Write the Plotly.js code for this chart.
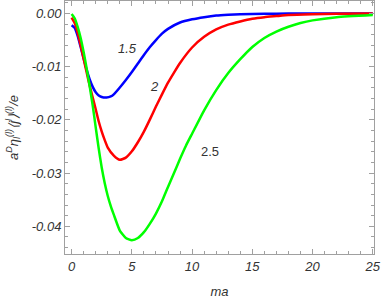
<!DOCTYPE html>
<html>
<head>
<meta charset="utf-8">
<script src="https://cdn.plot.ly/plotly-3.0.1.min.js"></script>
<style>html,body{margin:0;padding:0;background:#fff;}#chart{width:382px;height:300px;}</style>
</head>
<body>
<div id="chart"></div>
<script>
// m a values and curves for the three parameter values
const x15 = [0, 0.25, 0.5, 0.75, 1.0, 1.25, 1.5, 1.75, 2.0, 2.25, 2.5, 2.9, 3.25, 3.5, 4.0, 4.5, 5.0, 5.5, 6.0, 6.5, 7.0, 7.5, 8.0, 9.0, 10.0, 11.0, 12.0, 13.0, 14.0, 16.0, 18.0, 20.0, 25.0];
const y15 = [-0.0022, -0.0027, -0.0042, -0.0063, -0.0085, -0.0106, -0.0124, -0.0138, -0.0148, -0.0154, -0.0157, -0.0158, -0.0156, -0.0152, -0.0139, -0.0125, -0.0110, -0.0094, -0.0078, -0.0063, -0.0050, -0.0038, -0.0029, -0.0017, -0.0011, -0.0007, -0.0004, -0.00025, -0.00015, -0.00006, -0.00002, -0.00001, 0];

const x20 = [0, 0.25, 0.5, 0.75, 1.0, 1.25, 1.5, 1.75, 2.0, 2.25, 2.5, 2.75, 3.0, 3.5, 4.0, 4.5, 5.0, 5.5, 6.0, 6.5, 7.0, 7.5, 8.0, 8.5, 9.0, 10.0, 11.0, 12.0, 13.0, 14.0, 15.0, 16.0, 17.0, 18.0, 20.0, 22.0, 25.0];
const y20 = [-0.0008, -0.0018, -0.0036, -0.0060, -0.0085, -0.0111, -0.0136, -0.0158, -0.0180, -0.0203, -0.0222, -0.0238, -0.0252, -0.0267, -0.0275, -0.0271, -0.0259, -0.0242, -0.0222, -0.0199, -0.0175, -0.0152, -0.0130, -0.0111, -0.0093, -0.0064, -0.0044, -0.0030, -0.0021, -0.0015, -0.0010, -0.0007, -0.0005, -0.0003, -0.00015, -0.00007, -0.00002];

const x25 = [0, 0.25, 0.5, 0.75, 1.0, 1.25, 1.5, 1.75, 2.0, 2.25, 2.5, 2.75, 3.0, 3.25, 3.5, 4.0, 4.5, 5.0, 5.5, 6.0, 6.5, 7.0, 7.5, 8.0, 8.5, 9.0, 9.5, 10.0, 11.0, 12.0, 13.0, 14.0, 15.0, 16.0, 17.0, 18.0, 19.0, 20.0, 22.0, 25.0];
const y25 = [-0.0001, -0.0009, -0.0025, -0.0046, -0.0073, -0.0104, -0.0137, -0.0173, -0.0214, -0.0254, -0.0290, -0.0319, -0.0343, -0.0362, -0.0378, -0.0408, -0.0422, -0.0426, -0.0422, -0.0411, -0.0395, -0.0376, -0.0353, -0.0326, -0.0300, -0.0273, -0.0248, -0.0226, -0.0182, -0.0144, -0.0112, -0.0086, -0.0063, -0.0046, -0.0034, -0.0025, -0.0018, -0.0013, -0.0007, -0.0003];

const curveLabels = ["1.5", "2", "2.5"];
const xTickVals = [0, 5, 10, 15, 20, 25];
const xTickText = ["0", "5", "10", "15", "20", "25"];
const yTickVals = [0, -0.01, -0.02, -0.03, -0.04];
const yTickText = ["0.00", "-0.01", "-0.02", "-0.03", "-0.04"];

const font = "Liberation Sans, Arial, sans-serif";
const frame = "#a0a0a0";
const txt = "#333";

function tr(x, y, c) {
  return {x: x, y: y, type: "scatter", mode: "lines",
    line: {color: c, width: 2.5, shape: "spline", smoothing: 0.5},
    hoverinfo: "skip", showlegend: false};
}

const data = [tr(x15, y15, "#0000ff"), tr(x20, y20, "#ff0000"), tr(x25, y25, "#00ff00")];

const axisCommon = {
  showgrid: false, zeroline: false, showline: true, linecolor: frame, linewidth: 1,
  mirror: "allticks", ticks: "inside", ticklen: 5, tickcolor: frame, tickwidth: 1,
  tickfont: {family: font, size: 13, color: txt, style: "italic"},
  tickmode: "array"
};

const layout = {
  width: 382, height: 300,
  margin: {l: 65, r: 8, t: 1, b: 45.5},
  paper_bgcolor: "#fff", plot_bgcolor: "#fff",
  xaxis: Object.assign({}, axisCommon, {
    range: [-0.55, 25.1], tickvals: xTickVals, ticktext: xTickText,
    minor: {dtick: 1, tick0: 0, ticks: "inside", ticklen: 3, tickcolor: frame},
    title: {text: "ma", font: {family: font, size: 13, color: txt, style: "italic"}, standoff: 14}
  }),
  yaxis: Object.assign({}, axisCommon, {
    range: [-0.0452, 0.00234], tickvals: yTickVals, ticktext: yTickText,
    minor: {dtick: 0.002, tick0: 0, ticks: "inside", ticklen: 3, tickcolor: frame},
    title: {text: "a<sup>D</sup>η<sub>l</sub><sup>(l)</sup>⟨j<sup>l</sup>⟩<sup>(l)</sup>/e",
      font: {family: font, size: 13, color: txt, style: "italic"}, standoff: 10}
  }),
  annotations: [
    {x: 4.67, y: -0.00666, text: curveLabels[0], showarrow: false, font: {family: font, size: 13, color: txt, style: "italic"}},
    {x: 6.91, y: -0.0138, text: curveLabels[1], showarrow: false, font: {family: font, size: 13, color: txt, style: "italic"}},
    {x: 11.48, y: -0.026, text: curveLabels[2], showarrow: false, font: {family: font, size: 13, color: txt}}
  ]
};

Plotly.newPlot("chart", data, layout, {staticPlot: true, displayModeBar: false});
</script>
</body>
</html>
